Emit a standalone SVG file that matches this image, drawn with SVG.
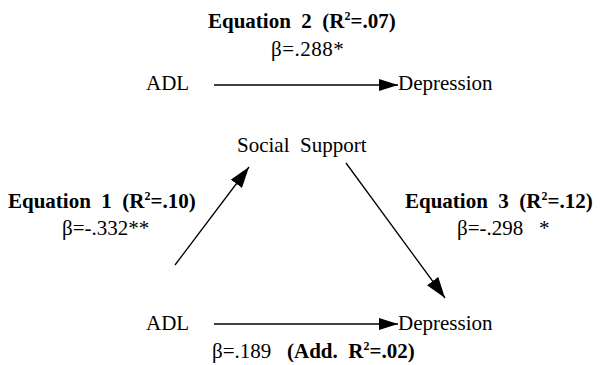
<svg xmlns="http://www.w3.org/2000/svg" width="600" height="365" viewBox="0 0 600 365">
<style>
text{font-family:"Liberation Serif","Times New Roman",serif;font-size:21px;fill:#000}
.b{font-weight:bold}
.sup{font-size:12px}
.ln{stroke:#000;stroke-width:1.3;fill:none}
</style>
<defs>
<marker id="ah" viewBox="0 0 19 12" refX="19" refY="6" markerWidth="19" markerHeight="12" markerUnits="userSpaceOnUse" orient="auto">
<path d="M0,0 L19,6 L0,12 Z" fill="#000"/>
</marker>
<marker id="ahd" viewBox="0 0 21 14" refX="21" refY="7" markerWidth="21" markerHeight="14" markerUnits="userSpaceOnUse" orient="auto">
<path d="M0,0 L21,7 L0,14 Z" fill="#000"/>
</marker>
</defs>
<rect width="600" height="365" fill="#fff"/>
<g id="eq2label">
<text class="b" x="208" y="28" xml:space="preserve">Equation  2  (R<tspan class="sup" dy="-8">2</tspan><tspan dy="8">=.07)</tspan></text>
<text x="271" y="56" letter-spacing="0.5">β=.288*</text>
</g>
<g id="adl-top"><text x="146" y="90">ADL</text></g>
<g id="dep-top"><text x="398" y="90">Depression</text></g>
<g id="social"><text x="237" y="152" xml:space="preserve">Social  Support</text></g>
<g id="eq1label">
<text class="b" x="8" y="208" xml:space="preserve">Equation  1  (R<tspan class="sup" dy="-8">2</tspan><tspan dy="8">=.10)</tspan></text>
<text x="62" y="235">β=-.332**</text>
</g>
<g id="eq3label">
<text class="b" x="405" y="208" xml:space="preserve">Equation  3  (R<tspan class="sup" dy="-8">2</tspan><tspan dy="8">=.12)</tspan></text>
<text x="457" y="235" xml:space="preserve">β=-.298   *</text>
</g>
<g id="adl-bot"><text x="146" y="330">ADL</text></g>
<g id="dep-bot"><text x="398" y="330">Depression</text></g>
<g id="addlabel">
<text x="212" y="358">β=.189</text>
<text class="b" x="287" y="358" xml:space="preserve">(Add.  R<tspan class="sup" dy="-8">2</tspan><tspan dy="8">=.02)</tspan></text>
</g>
<g id="connectors">
<line class="ln" x1="214" y1="85" x2="398" y2="85" marker-end="url(#ah)"/>
<line class="ln" x1="175" y1="265" x2="249" y2="167" marker-end="url(#ahd)"/>
<line class="ln" x1="346" y1="163" x2="445" y2="298" marker-end="url(#ahd)"/>
<line class="ln" x1="214" y1="324" x2="398" y2="324" marker-end="url(#ah)"/>
</g>
</svg>
